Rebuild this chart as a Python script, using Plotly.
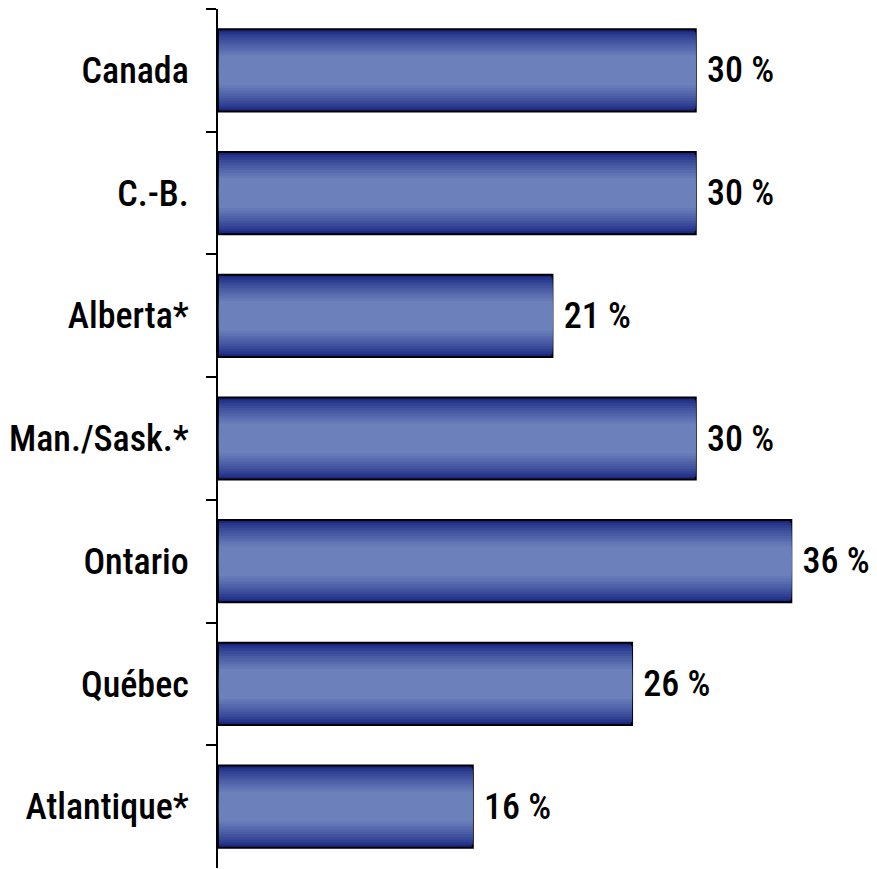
import numpy as np
import plotly.graph_objects as go

REGIONS = ["Canada", "C.-B.", "Alberta*", "Man./Sask.*", "Ontario", "Québec", "Atlantique*"]
SHARE_PCT = [30, 30, 21, 30, 36, 26, 16]

BAR_WIDTH = 0.67
DARK = np.array([26, 40, 130], dtype=float)
LIGHT = np.array([108, 128, 188], dtype=float)
N_LAYERS = 16

FONT = "Roboto Condensed, Liberation Sans, Arial, sans-serif"
FONT_SIZE = 36


def rgb(c):
    return "rgb({:.0f},{:.0f},{:.0f})".format(*c)


fig = go.Figure()

# base layer with outline and labels
fig.add_trace(go.Bar(
    y=REGIONS, x=SHARE_PCT, orientation="h", width=BAR_WIDTH,
    marker={"color": rgb(DARK), "line": {"color": "black", "width": 2}},
    text=[f" {v} %" for v in SHARE_PCT], textposition="outside",
    textfont={"family": FONT, "size": FONT_SIZE, "color": "black", "weight": 500},
    cliponaxis=False, hoverinfo="skip", showlegend=False,
))

# fake vertical gradient: narrower, lighter bars stacked on top
for k in range(1, N_LAYERS):
    t = 1.0 - k / N_LAYERS
    w = BAR_WIDTH * t - 0.006
    mix = min(1.0, (1 - t) * 1.6) ** 0.8
    col = DARK + (LIGHT - DARK) * mix
    fig.add_trace(go.Bar(
        y=REGIONS, x=[v - 0.06 for v in SHARE_PCT], base=0.06, orientation="h", width=w,
        marker={"color": rgb(col), "line": {"width": 0}},
        hoverinfo="skip", showlegend=False,
    ))

# page body adds an 8px margin, so the figure is drawn 8px smaller
fig.update_layout(
    barmode="overlay",
    width=869, height=861,
    margin={"l": 210, "r": 22, "t": 1, "b": 1},
    paper_bgcolor="white", plot_bgcolor="white",
    xaxis={"range": [0, 40], "visible": False},
    yaxis={
        "autorange": "reversed", "automargin": False,
        "showline": True, "linecolor": "black", "linewidth": 2,
        "ticks": "outside", "tickson": "boundaries", "ticklen": 10,
        "tickwidth": 2, "tickcolor": "black",
        "ticklabelstandoff": 20,
        "tickfont": {"family": FONT, "size": FONT_SIZE, "color": "black", "weight": 500},
        "showgrid": False,
    },
)

fig.write_html("out.html")
